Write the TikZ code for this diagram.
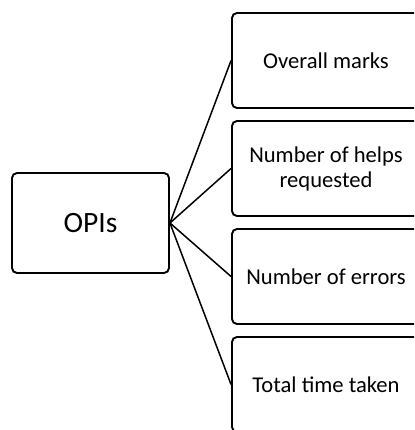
\documentclass[tikz,border=0pt]{standalone}
\usepackage{fontspec}
\setmainfont{Carlito}

\tikzset{
    caja/.style={draw, line width=1.9pt, rounded corners=5pt, align=center, inner sep=0pt},
    opi/.style={caja, minimum width=157pt, minimum height=100pt, font=\fontsize{29.5}{34}\selectfont},
    indicador/.style={caja, minimum width=188pt, minimum height=95pt, font=\fontsize{22.6}{25}\selectfont},
    rama/.style={line width=1.5pt}
}

\begin{document}
\begin{tikzpicture}[x=1pt, y=-1pt]
    \useasboundingbox (0,0) rectangle (414,430);
    \clip (0,0) rectangle (414,430);

    % Nodo central
    \node[opi] (opis) at (90.5,223) {OPIs};

    % Indicadores
    \node[indicador] (marcas) at (326,60.5) {Overall marks};
    \node[indicador] (ayudas) at (326,168.5) {Number of helps\\requested};
    \node[indicador] (errores) at (326,276.5) {Number of errors};
    \node[indicador] (tiempo) at (326,384.5) {Total time taken};

    % Conexiones
    \draw[rama] (opis.east) -- (marcas.west);
    \draw[rama] (opis.east) -- (ayudas.west);
    \draw[rama] (opis.east) -- (errores.west);
    \draw[rama] (opis.east) -- (tiempo.west);
\end{tikzpicture}
\end{document}
